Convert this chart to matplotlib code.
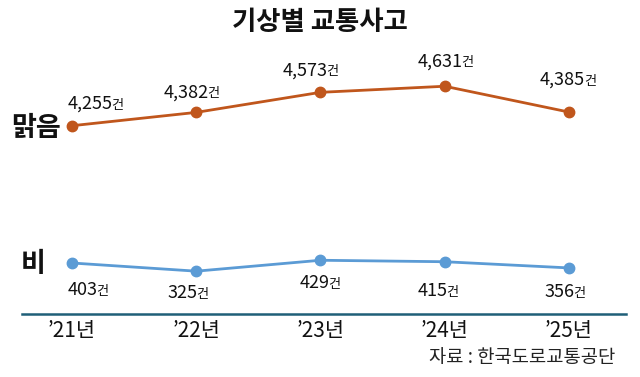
import matplotlib.pyplot as plt
from matplotlib.offsetbox import TextArea, HPacker, AnnotationBbox

plt.rcParams['font.family'] = ['Noto Sans CJK KR', 'DejaVu Sans']

years = ["’21년", "’22년", "’23년", "’24년", "’25년"]
clear = [4255, 4382, 4573, 4631, 4385]
rain = [403, 325, 429, 415, 356]

# label nudges in px (dx, dy)
clear_off = [(24, 22), (-5, 20), (-10, 22), (1, 25), (-1, 32)]
rain_off = [(16, -27), (-8, -22), (0, -23), (-7, -29), (-4, -24)]

orange = '#C0561C'
blue = '#5B9BD5'
teal = '#1F5F78'

W, H = 640, 377
fig = plt.figure(figsize=(6.4, 3.77), dpi=100)

ax1 = fig.add_axes([22 / W, 1 - 140 / H, 604 / W, 80 / H])
ax2 = fig.add_axes([22 / W, 1 - 314 / H, 604 / W, 74 / H])

x = list(range(len(years)))
for ax in (ax1, ax2):
    ax.set_xlim(-0.402, 4.459)
    for s in ax.spines.values():
        s.set_visible(False)
    ax.set_yticks([])
    ax.patch.set_alpha(0)

ax1.set_ylim(4119, 4881)
ax2.set_ylim(-83, 622)
ax1.set_xticks([])

ax1.plot(x, clear, color=orange, lw=2, marker='o', ms=7.5, clip_on=False)
ax2.plot(x, rain, color=blue, lw=2, marker='o', ms=7.5, clip_on=False)

ax2.spines['bottom'].set_visible(True)
ax2.spines['bottom'].set_color(teal)
ax2.spines['bottom'].set_linewidth(1.8)
ax2.set_xticks(x)
ax2.set_xticklabels(years, fontsize=15)
ax2.tick_params(axis='x', length=0, pad=4, colors='#111111')


def label(ax, xi, v, off):
    num = TextArea(f"{v:,}", textprops=dict(fontsize=13, color='#111111'))
    unit = TextArea("건", textprops=dict(fontsize=9.5, color='#111111'))
    box = HPacker(children=[num, unit], align='baseline', pad=0, sep=-1)
    ab = AnnotationBbox(box, (xi, v), xybox=(off[0] * 0.72, off[1] * 0.72),
                        boxcoords='offset points', frameon=False,
                        annotation_clip=False, pad=0)
    ax.add_artist(ab)


for xi, v, o in zip(x, clear, clear_off):
    label(ax1, xi, v, o)
for xi, v, o in zip(x, rain, rain_off):
    label(ax2, xi, v, o)

fig.text(0.5, 1 - 22 / H, "기상별 교통사고", ha='center', va='center',
         fontsize=19, fontweight='bold', color='#111111')
fig.text(11 / W, 1 - 128 / H, "맑음", ha='left', va='center',
         fontsize=19.5, fontweight='bold', color='#111111')
fig.text(21 / W, 1 - 264 / H, "비", ha='left', va='center',
         fontsize=19.5, fontweight='bold', color='#111111')
fig.text(615 / W, 1 - 357 / H, "자료 : 한국도로교통공단", ha='right', va='center',
         fontsize=13.5, color='#222222')

fig.savefig('out.png', dpi=100)
